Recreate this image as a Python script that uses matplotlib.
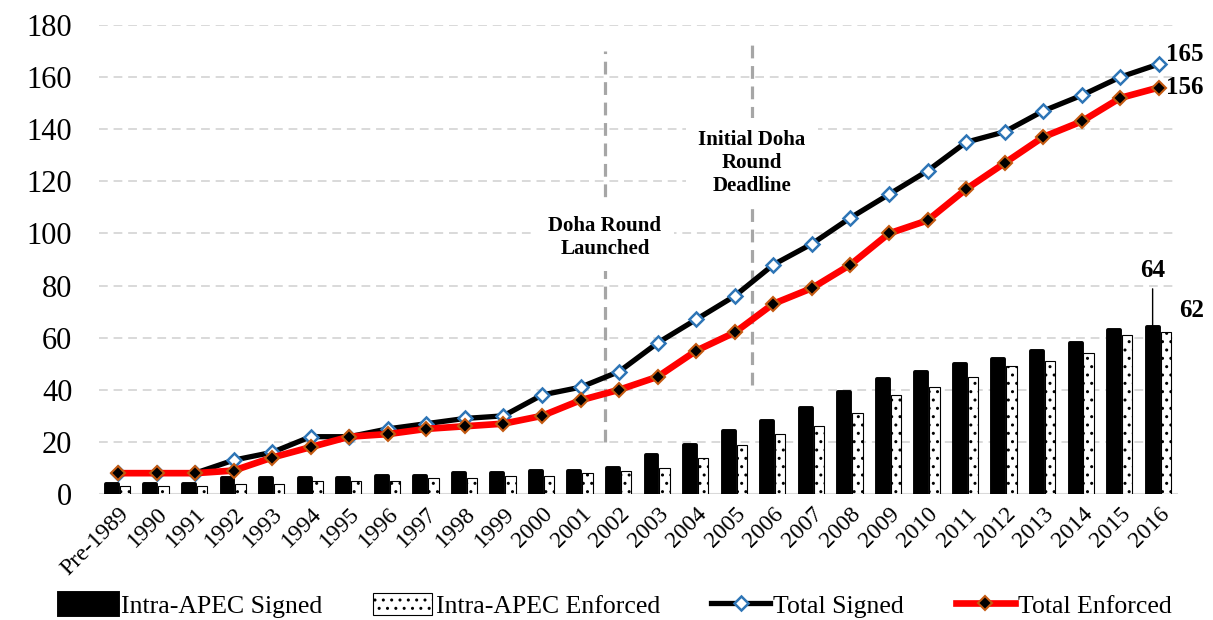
import matplotlib
matplotlib.use('Agg')
import matplotlib.pyplot as plt
import numpy as np

plt.rcParams['font.family'] = ['Liberation Serif', 'DejaVu Serif']
plt.rcParams['hatch.color'] = 'black'
plt.rcParams['hatch.linewidth'] = 1.0

years = ['Pre-1989'] + [str(y) for y in range(1990, 2017)]

apec_signed = [4, 4, 4, 6, 6, 6, 6, 7, 7, 8, 8, 9, 9, 10,
               15, 19, 24, 28, 33, 39, 44, 47, 50, 52, 55, 58, 63, 64]
apec_enforced = [3, 3, 3, 4, 4, 5, 5, 5, 6, 6, 7, 7, 8, 9,
                 10, 14, 19, 23, 26, 31, 38, 41, 45, 49, 51, 54, 61, 62]
total_signed = [8, 8, 8, 13, 16, 22, 22, 25, 27, 29, 30, 38, 41, 47,
                58, 67, 76, 88, 96, 106, 115, 124, 135, 139, 147, 153, 160, 165]
total_enforced = [8, 8, 8, 9, 14, 18, 22, 23, 25, 26, 27, 30, 36, 40,
                  45, 55, 62, 73, 79, 88, 100, 105, 117, 127, 137, 143, 152, 156]

# event markers (position between years)
doha_launch_x = 12.63
doha_deadline_x = 16.45

x = np.arange(len(years))

fig = plt.figure(figsize=(12.13, 6.2), dpi=100)
ax = fig.add_axes([0.0814, 0.2032, 0.8898, 0.7565])

# grid
ax.set_axisbelow(True)
ax.yaxis.grid(True, color='#D9D9D9', linewidth=1.4, linestyle=(0, (4.5, 3)))
ax.axhline(0, color='#D9D9D9', linewidth=2.2, zorder=1)

# event lines
ax.vlines(doha_launch_x, 20, 170, color='#A6A6A6', linewidth=2.3,
          linestyles=(0, (4, 2.4)), zorder=1.5)
ax.vlines(doha_deadline_x, 42, 173, color='#A6A6A6', linewidth=2.3,
          linestyles=(0, (4, 2.4)), zorder=1.5)

box = dict(boxstyle='square,pad=0.6', facecolor='white', edgecolor='none')
ax.text(doha_launch_x, 98.5, 'Doha Round\nLaunched', ha='center', va='center',
        fontsize=15, fontweight='bold', linespacing=1.2, bbox=box, zorder=2.5)
ax.text(doha_deadline_x, 127, 'Initial Doha\nRound\nDeadline', ha='center', va='center',
        fontsize=15, fontweight='bold', linespacing=1.2, bbox=box, zorder=2.5)

# bars
b1 = ax.bar(x - 0.16, apec_signed, width=0.31, color='black', edgecolor='black',
            linewidth=2.8, joinstyle='round', label='Intra-APEC Signed', zorder=2)
b2 = ax.bar(x + 0.18, apec_enforced, width=0.27, color='white', edgecolor='black',
            linewidth=0.8, hatch='..', label='Intra-APEC Enforced', zorder=2.2)

# lines
l1, = ax.plot(x, total_signed, color='black', linewidth=3.8, marker='D', markersize=7.5,
              markerfacecolor='white', markeredgecolor='#2E75B6', markeredgewidth=1.8,
              label='Total Signed', zorder=3)
l2, = ax.plot(x, total_enforced, color='#FF0000', linewidth=4.8, marker='D', markersize=7.5,
              markerfacecolor='black', markeredgecolor='#C55A11', markeredgewidth=1.5,
              label='Total Enforced', zorder=4)

# value labels
ax.annotate(str(total_signed[-1]), xy=(x[-1], total_signed[-1]), xytext=(5, 7),
            textcoords='offset points', ha='left', va='center',
            fontsize=18, fontweight='bold')
ax.annotate(str(total_enforced[-1]), xy=(x[-1], total_enforced[-1]), xytext=(5, 0),
            textcoords='offset points', ha='left', va='center',
            fontsize=18, fontweight='bold')
ax.annotate(str(apec_signed[-1]), xy=(x[-1] - 0.16, apec_signed[-1] + 0.5), xytext=(0, 40),
            textcoords='offset points', ha='center', va='center',
            fontsize=18, fontweight='bold',
            arrowprops=dict(arrowstyle='-', color='black', lw=1.0, shrinkA=3, shrinkB=0))
ax.annotate(str(apec_enforced[-1]), xy=(x[-1] + 0.18, apec_enforced[-1]), xytext=(10, 16),
            textcoords='offset points', ha='left', va='center',
            fontsize=18, fontweight='bold')

ax.set_xlim(-0.5, len(years) - 0.5)
ax.set_ylim(0, 180)
ax.set_yticks(np.arange(0, 181, 20))
ax.set_xticks(x)
ax.set_xticklabels(years, rotation=45, ha='right', va='top', rotation_mode='anchor',
                   fontsize=17)
ax.tick_params(axis='y', length=0, pad=19, labelsize=22)
ax.tick_params(axis='x', length=0, pad=7)
for s in ax.spines.values():
    s.set_visible(False)

fig.legend(handles=[b1, b2, l1, l2], loc='center', bbox_to_anchor=(0.507, 0.023),
           ncol=4, frameon=False, fontsize=18.5, handlelength=2.3, handleheight=0.9,
           handletextpad=0.12, columnspacing=2.0, numpoints=1, borderaxespad=0)

fig.savefig('out.png', dpi=100)
